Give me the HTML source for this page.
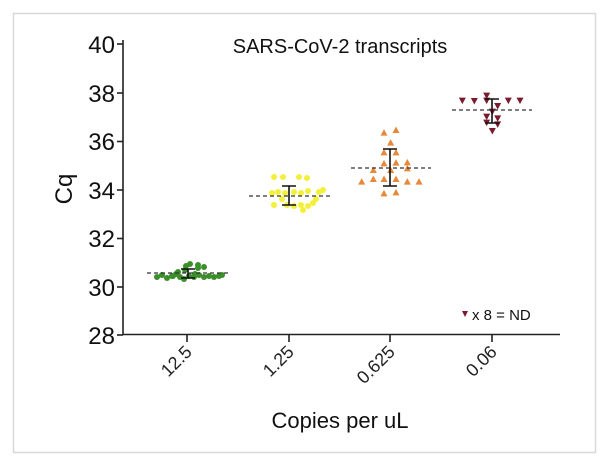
<!DOCTYPE html>
<html><head><meta charset="utf-8"><style>
html,body{margin:0;padding:0;background:#fff;}
svg{display:block;font-family:"Liberation Sans",sans-serif;}
</style></head><body>
<svg id="s" width="606" height="464" viewBox="0 0 606 464">
<rect x="13.5" y="13.5" width="582" height="439" fill="#fff" stroke="#d8d8d8" stroke-width="1.5"/>
<g stroke="#222" stroke-width="1.6" fill="none">
<line x1="123" y1="40" x2="123" y2="335"/>
<line x1="123" y1="334.5" x2="560" y2="334.5"/>
<line x1="117" y1="44" x2="123" y2="44"/>
<line x1="117" y1="93" x2="123" y2="93"/>
<line x1="117" y1="141.5" x2="123" y2="141.5"/>
<line x1="117" y1="190" x2="123" y2="190"/>
<line x1="117" y1="238.5" x2="123" y2="238.5"/>
<line x1="117" y1="287" x2="123" y2="287"/>
<line x1="117" y1="335" x2="123" y2="335"/>
<line x1="187" y1="335" x2="187" y2="342"/>
<line x1="289" y1="335" x2="289" y2="342"/>
<line x1="390" y1="335" x2="390" y2="342"/>
<line x1="492" y1="335" x2="492" y2="342"/>
</g>
<g font-size="24" text-anchor="end" fill="#111">
<text x="115" y="53">40</text><text x="115" y="102">38</text><text x="115" y="150">36</text>
<text x="115" y="199">34</text><text x="115" y="247">32</text><text x="115" y="296">30</text><text x="115" y="344">28</text>
</g>
<text transform="translate(72,189) rotate(-90)" font-size="24" text-anchor="middle" fill="#111">Cq</text>
<text x="340" y="53" font-size="20" text-anchor="middle" fill="#111">SARS-CoV-2 transcripts</text>
<g font-size="18" text-anchor="end" fill="#222">
<text transform="translate(193,353) rotate(-45)">12.5</text>
<text transform="translate(295,353) rotate(-45)">1.25</text>
<text transform="translate(396,353) rotate(-45)">0.625</text>
<text transform="translate(498,353) rotate(-45)">0.06</text>
</g>
<text x="340" y="428" font-size="22" text-anchor="middle" fill="#111">Copies per uL</text>
<polygon points="462,311 468,311 465,317" fill="#7a1a2e"/>
<text x="472" y="320" font-size="15" fill="#111">x 8 = ND</text>
<g id="pts"></g>
<g stroke="#333" stroke-width="1.3" stroke-dasharray="4,3">
<line x1="147" y1="273" x2="228" y2="273"/>
<line x1="249" y1="196" x2="330" y2="196"/>
<line x1="351" y1="168" x2="431" y2="168"/>
<line x1="452" y1="110" x2="532" y2="110"/>
</g>
<g stroke="#111" stroke-width="1.6" fill="none">
<path d="M181 269H195M188 269V278M181 278H195"/>
<path d="M282 186H296M289 186V205M282 205H296"/>
<path d="M383 149H397M390 149V186M383 186H397"/>
<path d="M485 99H499M492 99V123M485 123H499"/>
</g>
</svg>
<script>
var g=document.getElementById('pts'),h='';
var green=[[157,277],[162,275],[167,278],[172,276],[176,274],[180,277],[184,279],[189,276],[194,277],[199,275],[204,277],[209,276],[214,277],[219,276],[222,275],[185,270],[190,264],[186,266],[198,268],[198,265],[204,267],[178,272],[173,276],[195,274]];
green.forEach(function(p){h+='<circle cx="'+p[0]+'" cy="'+p[1]+'" r="3" fill="#3a8f2a"/>';});
var yel=[[274,177],[283,177],[299,177],[307,178],[272,193],[278,192],[285,193],[294,192],[301,193],[308,191],[319,192],[323,190],[274,205],[287,205],[294,206],[301,205],[308,206],[313,203],[303,210],[282,199],[316,199]];
yel.forEach(function(p){h+='<circle cx="'+p[0]+'" cy="'+p[1]+'" r="3" fill="#f2f03a"/>';});
var or=[[792,308],[828,300],[812,338],[792,367],[828,367],[792,400],[828,398],[862,397],[760,420],[862,415],[725,455],[760,447],[792,447],[828,447],[862,455],[897,455],[792,490],[828,487],[812,420]];
or.forEach(function(p){var x=p[0]/3+120,y=p[1]/3+30;h+='<polygon points="'+(x-3.5)+','+(y+3)+' '+(x+3.5)+','+(y+3)+' '+x+','+(y-3.5)+'" fill="#e8883a"/>';});
var rd=[[1027,212],[1063,213],[1100,197],[1100,212],[1133,228],[1165,212],[1200,212],[1100,260],[1133,265],[1100,278],[1133,283],[1117,303],[1117,245]];
rd.forEach(function(p){var x=p[0]/3+120,y=p[1]/3+30;h+='<polygon points="'+(x-3.5)+','+(y-3)+' '+(x+3.5)+','+(y-3)+' '+x+','+(y+3.5)+'" fill="#7a1a2e"/>';});
g.innerHTML=h;
</script>
</body></html>
